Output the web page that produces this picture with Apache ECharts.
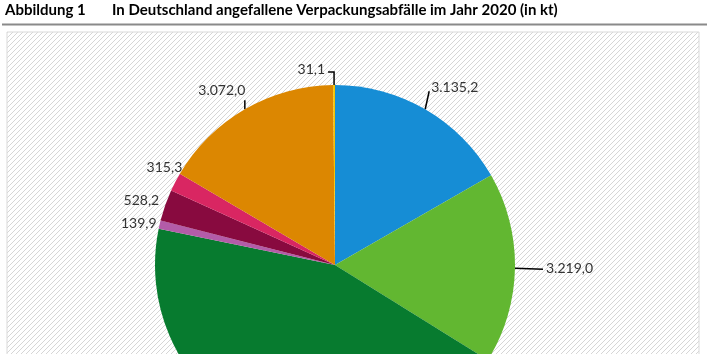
<!DOCTYPE html>
<html>
<head>
<meta charset="utf-8">
<script src="https://cdn.jsdelivr.net/npm/echarts@6/dist/echarts.min.js"></script>
<style>
  html, body { margin: 0; padding: 0; background: #fff; }
  #chart { width: 707px; height: 354px; }
</style>
</head>
<body>
<div id="chart"></div>
<script>
// Verpackungsabfälle 2020 (kt), im Uhrzeigersinn ab 12 Uhr
const categories = ['Glas', 'Kunststoffe', 'Papier, Pappe, Karton', 'Aluminium', 'Eisenmetalle', 'Sonstige', 'Holz', 'Übrige'];
const values = [3135.2, 3219.0, 8327.5, 139.9, 528.2, 315.3, 3072.0, 31.1];
const colors = ['#168dd5', '#62b731', '#077b2f', '#b35ca8', '#880a3f', '#d92662', '#dc8701', '#f3c300'];

// Beschriftungen wie im Original (Versatz ab Kreisrand)
const labelPlace = [
  { dx: 6, dy: -22, align: 'left', line: [[4, -18]] },
  { dx: 31, dy: 0, align: 'left', line: [[28, 1]] },
  null,
  { dx: -3, dy: -1, align: 'right', line: [] },
  { dx: -6, dy: -5, align: 'right', line: [] },
  { dx: 7, dy: -15, align: 'right', line: [] },
  { dx: -23, dy: -19, align: 'center', line: [[0, -9]] },
  { dx: -9, dy: -16, align: 'right', line: [[0, -13], [-6, -13]] }
];

const chart = echarts.init(document.getElementById('chart'));

// schraffierter Hintergrund
const hatch = document.createElement('canvas');
hatch.width = 5;
hatch.height = 5;
const hctx = hatch.getContext('2d');
hctx.fillStyle = '#ffffff';
hctx.fillRect(0, 0, 5, 5);
hctx.strokeStyle = '#d6d6d6';
hctx.lineWidth = 1;
hctx.beginPath();
hctx.moveTo(-1, 6); hctx.lineTo(6, -1);
hctx.moveTo(-1, 1); hctx.lineTo(1, -1);
hctx.moveTo(4, 6); hctx.lineTo(6, 4);
hctx.stroke();

const fmt = v => v.toLocaleString('de-DE', { minimumFractionDigits: 1, maximumFractionDigits: 1 });

const option = {
  animation: false,
  backgroundColor: '#fff',
  graphic: [
    {
      type: 'rect',
      z: -10,
      shape: { x: 7, y: 32, width: 692, height: 330 },
      style: { fill: { image: hatch, repeat: 'repeat' }, stroke: '#d9d9d9', lineWidth: 1 }
    },
    {
      type: 'text',
      left: 5, top: 3,
      style: { text: 'Abbildung 1', font: 'bold 15px Lato', fill: '#000' }
    },
    {
      type: 'text',
      left: 112, top: 3,
      style: { text: 'In Deutschland angefallene Verpackungsabfälle im Jahr 2020 (in kt)', font: 'bold 15px Lato', fill: '#000' }
    },
    {
      type: 'line',
      shape: { x1: 2, y1: 24.5, x2: 707, y2: 24.5 },
      style: { stroke: '#8a8a8a', lineWidth: 2 }
    }
  ],
  series: [
    {
      type: 'pie',
      center: [335, 265],
      radius: 180,
      startAngle: 90,
      clockwise: true,
      avoidLabelOverlap: false,
      data: categories.map((name, i) => ({
        name: name,
        value: values[i],
        itemStyle: { color: colors[i] }
      })),
      label: {
        show: true,
        position: 'outside',
        formatter: p => fmt(p.value),
        fontFamily: 'Lato',
        fontSize: 14,
        color: '#333'
      },
      labelLine: {
        show: true,
        length: 10,
        length2: 8,
        lineStyle: { color: '#000', width: 1.5 }
      },
      labelLayout: params => {
        const spec = labelPlace[params.dataIndex];
        if (!spec || !params.labelLinePoints) return {};
        const p0 = params.labelLinePoints[0];
        const pts = [p0.slice()].concat(spec.line.map(d => [p0[0] + d[0], p0[1] + d[1]]));
        if (pts.length === 1) pts.push(p0.slice());
        return {
          x: p0[0] + spec.dx,
          y: p0[1] + spec.dy,
          align: spec.align,
          verticalAlign: 'middle',
          labelLinePoints: pts
        };
      }
    }
  ]
};

chart.setOption(option);
</script>
</body>
</html>
